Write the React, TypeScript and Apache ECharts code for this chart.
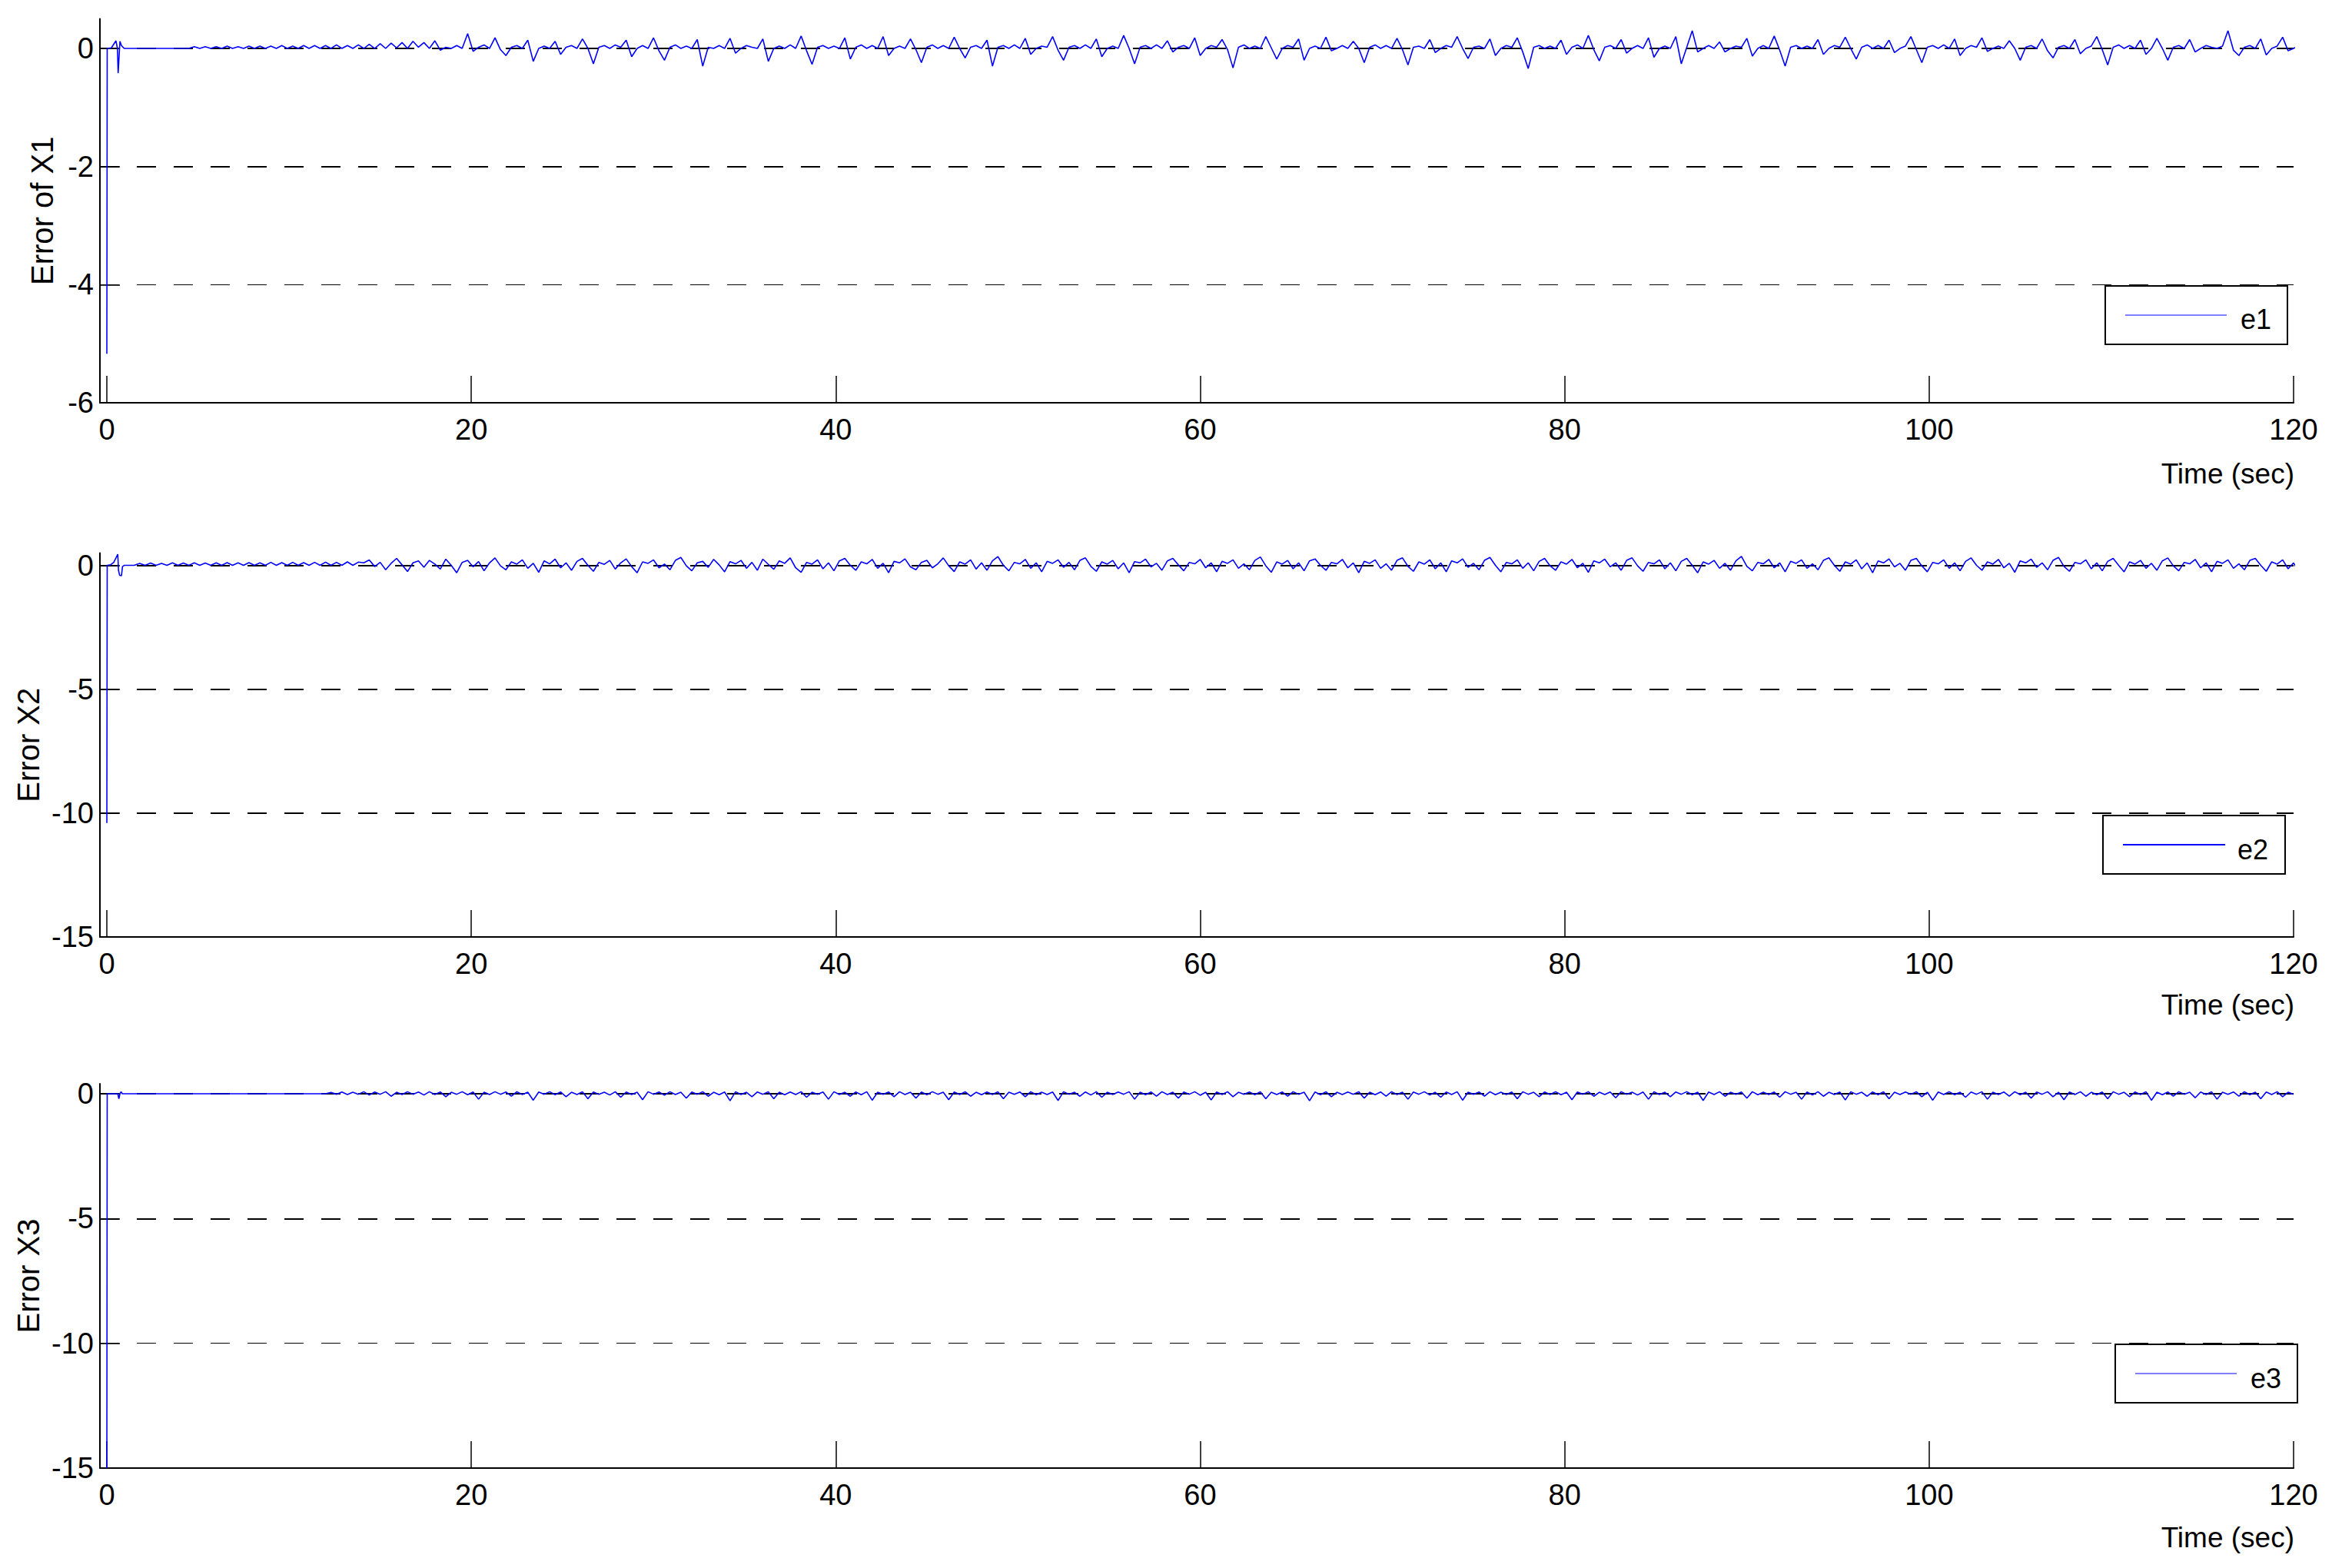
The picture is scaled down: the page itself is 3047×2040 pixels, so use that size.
import React, { useEffect, useRef } from "react";
import * as echarts from "echarts";

// ---- data ----
const X_TICKS = [0, 20, 40, 60, 80, 100, 120];
const Y1_TICKS = [-6, -4, -2, 0];
const Y2_TICKS = [-15, -10, -5, 0];
const Y3_TICKS = [-15, -10, -5, 0];

const T_START = 1.2;
const T_STEP = 0.3;

// initial transient [time, value]
const e1Start = [[0, -5.17], [0.02, 0], [0.25, 0.01], [0.5, 0.13], [0.58, 0.0], [0.62, -0.42], [0.66, -0.2], [0.72, 0.12], [0.8, 0.05], [0.95, 0]];
const e2Start = [[0, -10.4], [0.02, 0], [0.2, 0.02], [0.38, 0.12], [0.6, 0.45], [0.64, -0.2], [0.7, -0.4], [0.8, -0.42], [0.86, -0.05], [0.95, 0]];
const e3Start = [[0, -15], [0.02, 0], [0.6, 0], [0.66, -0.2], [0.72, 0.0], [0.78, 0.08], [0.85, 0.0]];

// samples every 0.3 s from t = 1.2 s
const e1Values = [
  0,0,0,0,0,0,0,0,0,0,0,0,
  0.03,0,0.03,0,0.03,0,0.04,0,0.03,0,0.04,0,0.04,0,0.04,0,0.05,0,0.04,0,0.05,0,0.05,0,0.05,0,0.06,0,0.05,0,0.06,0,
  0.07,0,0.08,0,0.09,0.01,0.1,0,0.12,0.02,0.1,0,0.13,-0.03,
  0.02,0.0,0.05,0.0,0.25,-0.05,0.02,0.06,0.0,0.18,-0.02,-0.12,0.02,0.05,0.0,0.14,-0.22,0.0,0.04,0.0,
  0.12,-0.1,0.02,0.05,0.0,0.16,0.0,-0.26,0.02,0.05,0.0,0.06,0.02,0.14,-0.14,0.0,0.05,0.0,0.18,-0.04,
  -0.2,0.02,0.06,0.0,0.04,0.0,0.15,-0.3,0.02,0.0,0.05,0.0,0.17,-0.08,0.0,0.05,0.02,0.0,0.16,-0.22,
  0.0,0.04,0.0,0.06,0.0,0.21,-0.04,-0.27,0.02,0.05,0.0,0.04,0.0,0.18,-0.18,0.02,0.06,0.0,0.05,0.0,
  0.2,-0.12,0.0,0.04,0.0,0.16,-0.02,-0.24,0.02,0.06,0.0,0.05,0.0,0.19,0.0,-0.16,0.02,0.05,0.0,0.14,
  -0.3,0.02,0.05,0.0,0.06,0.0,0.17,-0.1,0.0,0.04,0.02,0.2,-0.03,-0.2,0.02,0.05,0.0,0.06,0.0,0.16,
  -0.14,0.0,0.04,0.0,0.22,0.0,-0.26,0.02,0.05,0.0,0.06,0.0,0.13,-0.06,0.02,0.05,0.0,0.18,-0.12,0.0,
  0.05,0.02,0.15,-0.02,-0.33,0.02,0.06,0.0,0.04,0.0,0.2,0.01,-0.18,0.0,0.05,0.02,0.16,-0.2,0.0,0.04,
  0.0,0.19,-0.04,0.0,0.05,0.0,0.12,0.0,-0.24,0.02,0.06,0.0,0.05,0.0,0.17,-0.02,-0.28,0.02,0.04,0.0,
  0.15,-0.07,0.0,0.05,0.02,0.2,0.0,-0.17,0.02,0.04,0.0,0.16,-0.12,0.0,0.05,0.02,0.18,-0.06,-0.34,0.02,
  0.05,0.0,0.04,0.0,0.14,-0.1,0.02,0.06,0.0,0.22,-0.02,-0.21,0.02,0.05,0.0,0.15,-0.08,0.0,0.05,0.0,
  0.18,-0.15,0.0,0.04,0.0,0.2,-0.26,0.02,0.3,-0.06,0.0,0.05,0.0,0.11,-0.06,0.0,0.04,0.02,0.17,-0.13,
  0.0,0.05,0.0,0.21,-0.03,-0.3,0.02,0.05,0.0,0.04,0.0,0.15,-0.1,0.0,0.05,0.02,0.19,0.0,-0.18,0.02,
  0.06,0.0,0.05,0.0,0.14,-0.07,0.0,0.04,0.2,-0.02,-0.24,0.02,0.05,0.0,0.06,0.0,0.16,-0.12,0.0,0.05,
  0.02,0.18,-0.05,0.0,0.04,0.0,0.13,0.0,-0.2,0.02,0.05,0.0,0.16,-0.04,-0.16,0.02,0.05,0.0,0.15,-0.09,
  0.0,0.04,0.2,-0.02,-0.28,0.02,0.06,0.0,0.05,0.0,0.14,-0.1,0.0,0.17,0.0,-0.2,0.02,0.05,0.0,0.15,
  -0.06,0.0,0.05,0.02,0.0,0.04,0.3,-0.03,-0.12,0.02,0.05,0.0,0.16,-0.11,0.0,0.04,0.19,-0.04,0.0,0.05,
];

const e2Values = [
  0,0,
  0.08,0,0.09,0,0.08,0,0.1,0,0.09,0,0.1,0,0.09,0,0.1,0,0.11,0,0.1,0,0.11,0,0.1,0,0.12,0,0.11,0,0.12,0,0.11,0,0.12,0,0.13,0,0.12,0,0.14,0,0.13,
  0.1,0.22,-0.05,0.12,-0.18,0.08,0.28,0.02,-0.25,0.1,0.18,-0.08,0.2,0.05,-0.15,0.25,0.0,-0.3,0.12,0.2,
  -0.06,0.15,-0.22,0.1,0.3,-0.02,-0.18,0.14,0.05,0.22,-0.12,0.08,-0.28,0.18,0.06,0.25,-0.1,0.1,-0.2,0.16,
  0.28,0.0,-0.24,0.12,0.04,0.2,-0.15,0.1,0.26,-0.05,-0.3,0.14,0.08,0.22,-0.1,0.05,-0.18,0.2,0.32,-0.02,
  -0.22,0.1,0.16,-0.08,0.24,0.02,-0.26,0.15,0.06,0.2,-0.12,0.12,-0.2,0.25,0.04,-0.16,0.18,0.08,0.3,-0.1,
  -0.28,0.12,0.05,0.22,-0.14,0.1,-0.22,0.18,0.28,0.0,-0.2,0.14,0.06,0.24,-0.12,0.08,-0.3,0.16,0.1,0.26,
  -0.06,-0.18,0.12,0.2,-0.1,0.06,0.3,-0.02,-0.25,0.14,0.05,0.22,-0.15,0.1,-0.2,0.18,0.35,0.0,-0.22,0.12,
  0.06,0.24,-0.12,0.1,-0.26,0.16,0.08,0.22,-0.08,0.12,-0.18,0.2,0.3,-0.04,-0.24,0.14,0.05,0.2,-0.14,0.1,
  -0.3,0.15,0.1,0.25,-0.06,0.08,-0.2,0.18,0.28,0.02,-0.22,0.12,0.06,0.24,-0.1,0.1,-0.26,0.16,0.08,0.22,
  -0.12,0.06,-0.18,0.2,0.34,-0.02,-0.28,0.14,0.05,0.2,-0.14,0.1,-0.22,0.18,0.26,0.0,-0.2,0.12,0.06,0.24,
  -0.1,0.1,-0.3,0.16,0.08,0.22,-0.12,0.06,-0.2,0.2,0.3,-0.04,-0.24,0.14,0.05,0.22,-0.14,0.1,-0.26,0.18,
  0.1,0.26,-0.08,0.08,-0.18,0.2,0.32,0.0,-0.26,0.12,0.06,0.22,-0.12,0.1,-0.22,0.16,0.28,-0.02,-0.2,0.14,
  0.05,0.24,-0.1,0.08,-0.28,0.18,0.1,0.25,-0.06,0.1,-0.2,0.2,0.3,-0.02,-0.24,0.12,0.06,0.22,-0.14,0.1,
  -0.22,0.16,0.28,0.0,-0.3,0.14,0.05,0.2,-0.12,0.08,-0.2,0.18,0.36,-0.04,-0.22,0.12,0.06,0.24,-0.1,0.1,
  -0.26,0.16,0.08,0.22,-0.12,0.06,-0.18,0.2,0.3,0.0,-0.24,0.14,0.05,0.22,-0.14,0.1,-0.3,0.18,0.1,0.26,
  -0.06,0.08,-0.2,0.2,0.28,-0.02,-0.26,0.12,0.06,0.22,-0.12,0.1,-0.22,0.16,0.3,0.0,-0.2,0.14,0.05,0.24,
  -0.1,0.08,-0.28,0.18,0.1,0.25,-0.08,0.1,-0.18,0.2,0.32,-0.04,-0.24,0.12,0.06,0.22,-0.14,0.1,-0.22,0.16,
  0.28,0.0,-0.26,0.14,0.05,0.2,-0.12,0.08,-0.2,0.18,0.3,-0.02,-0.22,0.12,0.06,0.24,-0.1,0.1,-0.26,0.16,
  0.08,0.22,-0.12,0.06,-0.18,0.2,0.28,0.0,-0.24,0.14,0.05,0.22,-0.14,0.1,-0.3,0.18,0.1,0.2,-0.06,0.08,
];

const e3Values = [
  0,0,0,0,0,0,0,0,0,0,0,0,0,0,0,0,0,0,0,0,0,0,0,0,0,0,0,0,0,0,0,0,0,0,0,0,0,
  0.05,-0.02,0.07,-0.03,0.06,-0.02,0.08,-0.05,0.07,-0.02,0.08,-0.1,0.06,-0.03,0.08,-0.02,0.07,-0.05,0.08,-0.03,
  0.07,-0.12,0.06,-0.02,0.08,-0.04,0.07,-0.22,0.06,-0.03,0.08,-0.02,0.07,-0.1,0.08,-0.03,0.06,-0.26,0.07,-0.02,
  0.08,-0.04,0.07,-0.12,0.06,-0.03,0.08,-0.2,0.07,-0.02,0.06,-0.05,0.08,-0.14,0.07,-0.03,0.06,-0.24,0.08,-0.02,
  0.07,-0.06,0.08,-0.03,0.06,-0.18,0.07,-0.02,0.08,-0.1,0.06,-0.04,0.07,-0.28,0.08,-0.03,0.06,-0.12,0.07,-0.02,
  0.08,-0.2,0.06,-0.04,0.07,-0.03,0.08,-0.14,0.06,-0.02,0.07,-0.22,0.08,-0.03,0.06,-0.1,0.07,-0.04,0.08,-0.26,
  0.06,-0.02,0.07,-0.12,0.08,-0.03,0.06,-0.18,0.07,-0.04,0.08,-0.02,0.06,-0.24,0.07,-0.03,0.08,-0.1,0.06,-0.04,
  0.07,-0.03,0.08,-0.2,0.06,-0.02,0.07,-0.12,0.08,-0.04,0.06,-0.03,0.07,-0.27,0.08,-0.02,0.06,-0.1,0.07,-0.05,
  0.08,-0.14,0.06,-0.03,0.07,-0.02,0.08,-0.22,0.06,-0.04,0.07,-0.1,0.08,-0.03,0.06,-0.18,0.07,-0.02,0.08,-0.06,
  0.06,-0.25,0.07,-0.03,0.08,-0.12,0.06,-0.02,0.07,-0.04,0.08,-0.2,0.06,-0.03,0.07,-0.1,0.08,-0.02,0.06,-0.28,
  0.07,-0.04,0.08,-0.12,0.06,-0.03,0.07,-0.02,0.08,-0.18,0.06,-0.04,0.07,-0.1,0.08,-0.03,0.06,-0.22,0.07,-0.02,
  0.08,-0.05,0.06,-0.14,0.07,-0.03,0.08,-0.26,0.06,-0.02,0.07,-0.1,0.08,-0.04,0.06,-0.03,0.07,-0.2,0.08,-0.02,
  0.06,-0.12,0.07,-0.03,0.08,-0.04,0.06,-0.24,0.07,-0.02,0.08,-0.1,0.06,-0.03,0.07,-0.16,0.08,-0.02,0.06,-0.05,
  0.07,-0.22,0.08,-0.03,0.06,-0.12,0.07,-0.02,0.08,-0.04,0.06,-0.27,0.07,-0.03,0.08,-0.1,0.06,-0.02,0.07,-0.18,
  0.08,-0.04,0.06,-0.03,0.07,-0.14,0.08,-0.02,0.06,-0.22,0.07,-0.05,0.08,-0.1,0.06,-0.03,0.07,-0.25,0.08,-0.02,
  0.06,-0.1,0.07,-0.04,0.08,-0.2,0.06,-0.03,0.07,-0.02,0.08,-0.12,0.06,-0.26,0.07,-0.03,0.08,-0.04,0.06,-0.14,
  0.07,-0.02,0.08,-0.22,0.06,-0.03,0.07,-0.1,0.08,-0.04,0.06,-0.18,0.07,-0.02,0.08,-0.12,0.06,-0.24,0.07,-0.03,
  0.08,-0.1,0.06,-0.04,0.07,-0.2,0.08,-0.02,0.06,-0.12,0.07,-0.03,0.08,-0.26,0.06,-0.04,0.07,-0.1,0.08,-0.02,
  0.06,-0.16,0.07,-0.03,0.08,-0.22,0.06,-0.02,0.07,-0.1,0.08,-0.04,0.06,-0.2,0.07,-0.03,0.08,-0.12,0.06,-0.02,
];

const SERIES_NAMES = ["e1", "e2", "e3"];
const Y_TITLES = ["Error of X1", "Error X2", "Error X3"];
const X_TITLE = "Time (sec)";

const FONT = "'Liberation Sans Narrow', 'Liberation Sans', Arial, sans-serif";

function build(start: number[][], values: number[]) {
  const out = start.map((p) => [p[0], p[1]]);
  values.forEach((v, i) => out.push([+(T_START + i * T_STEP).toFixed(2), v]));
  return out;
}

export default function App() {
  const ref = useRef<HTMLDivElement>(null);
  useEffect(() => {
    document.body.style.margin = "0";
    const chart = echarts.init(ref.current!, null, { renderer: "svg" });

    const grids = [
      { left: 130, top: 24.6, width: 2854, height: 499.4 },
      { left: 130, top: 719.4, width: 2854, height: 499.6 },
      { left: 130, top: 1410, width: 2854, height: 500 },
    ];
    const yRanges = [
      [-6, 0.5],
      [-15, 0.5],
      [-15, 0.4],
    ];
    const yTicks = [Y1_TICKS, Y2_TICKS, Y3_TICKS];
    const gridLineWidths = [
      [2, 2, 1],
      [2, 2, 2],
      [2, 2, 1],
    ];
    const datas = [build(e1Start, e1Values), build(e2Start, e2Values), build(e3Start, e3Values)];

    const xAxes = grids.map((_, i) => ({
      gridIndex: i,
      type: "value",
      min: -0.38,
      max: 120,
      axisLine: { show: true, onZero: false, lineStyle: { color: "#000", width: 2 } },
      axisTick: { show: true, inside: true, length: 35, customValues: X_TICKS, lineStyle: { color: "#000", width: 1.5 } },
      axisLabel: { show: true, customValues: X_TICKS, margin: 16, color: "#000", fontSize: 38, fontFamily: FONT },
      splitLine: { show: false },
    }));
    const yAxes = grids.map((_, i) => ({
      gridIndex: i,
      type: "value",
      min: yRanges[i][0],
      max: yRanges[i][1],
      axisLine: { show: true, onZero: false, lineStyle: { color: "#000", width: 2 } },
      axisTick: { show: true, inside: true, length: 26, customValues: yTicks[i], lineStyle: { color: "#000", width: 1.5 } },
      axisLabel: { show: true, customValues: yTicks[i], margin: 8, color: "#000", fontSize: 38, fontFamily: FONT },
      splitLine: { show: false },
    }));

    const series = datas.map((d, i) => ({
      name: SERIES_NAMES[i],
      type: "line",
      xAxisIndex: i,
      yAxisIndex: i,
      data: d,
      showSymbol: false,
      symbol: "none",
      lineStyle: { color: "#0000ff", width: 1.6 },
      z: 3,
      markLine: {
        silent: true,
        z: 1,
        symbol: "none",
        label: { show: false },
        emphasis: { disabled: true },
        animation: false,
        data: [0, 1, 2].map((k) => ({
          yAxis: yTicks[i][3 - k],
          lineStyle: { color: "#000", width: gridLineWidths[i][k], type: [25, 23] },
        })),
      },
    }));

    const xTitleY = [616.5, 1307, 2000];
    const yTitleX = [55, 37, 37];
    const legends = [
      { box: [2739, 372, 237, 76], line: [2765, 2897, 410], lw: 1.2, tx: 2915, ty: 415 },
      { box: [2736, 1061, 237, 76], line: [2762, 2895, 1099], lw: 2, tx: 2911, ty: 1105 },
      { box: [2752, 1749, 237, 76], line: [2778, 2910, 1787], lw: 1.2, tx: 2928, ty: 1793 },
    ];

    const graphic: any[] = [];
    grids.forEach((g, i) => {
      graphic.push({
        type: "text",
        x: 2985,
        y: xTitleY[i],
        z: 100,
        style: { text: X_TITLE, fill: "#000", font: `37px ${FONT}`, align: "right", verticalAlign: "middle" },
      });
      graphic.push({
        type: "text",
        x: yTitleX[i],
        y: g.top + g.height / 2,
        rotation: Math.PI / 2,
        z: 100,
        style: { text: Y_TITLES[i], fill: "#000", font: `40px ${FONT}`, align: "center", verticalAlign: "middle" },
      });
      const L = legends[i];
      graphic.push({
        type: "rect",
        z: 100,
        shape: { x: L.box[0], y: L.box[1], width: L.box[2], height: L.box[3] },
        style: { fill: "#fff", stroke: "#000", lineWidth: 2 },
      });
      graphic.push({
        type: "line",
        z: 101,
        shape: { x1: L.line[0], y1: L.line[2], x2: L.line[1], y2: L.line[2] },
        style: { stroke: "#0000ff", lineWidth: L.lw },
      });
      graphic.push({
        type: "text",
        z: 101,
        x: L.tx,
        y: L.ty,
        style: { text: SERIES_NAMES[i], fill: "#000", font: `36px ${FONT}`, align: "left", verticalAlign: "middle" },
      });
    });

    chart.setOption({
      animation: false,
      backgroundColor: "#fff",
      grid: grids,
      xAxis: xAxes,
      yAxis: yAxes,
      series,
      graphic,
    });
    return () => chart.dispose();
  }, []);
  return <div ref={ref} style={{ width: 3047, height: 2040 }} />;
}
